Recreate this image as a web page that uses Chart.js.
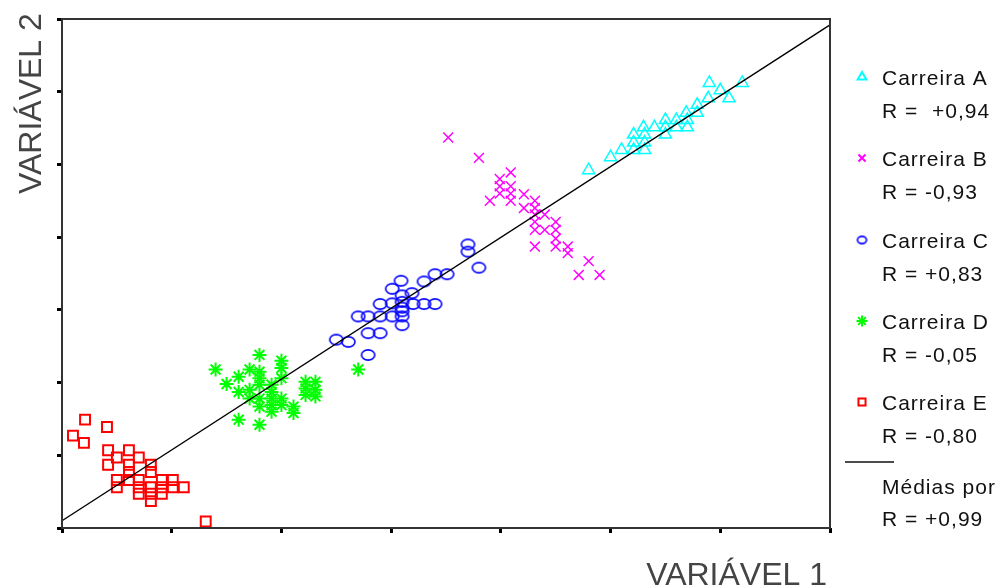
<!DOCTYPE html>
<html>
<head>
<meta charset="utf-8">
<script src="https://cdn.jsdelivr.net/npm/chart.js@4/dist/chart.umd.min.js"></script>
<style>
  html, body { margin: 0; padding: 0; background: #fff; }
  #wrap { width: 1004px; height: 588px; }
</style>
</head>
<body>
<div id="wrap"><canvas id="chart" width="1004" height="588"></canvas></div>
<script>
// values, both axes run 0..7 (one unit per tick)
const carreiraA = [
    [4.80, 4.92], [5.00, 5.10], [5.10, 5.20], [5.21, 5.20], [5.31, 5.20],
    [5.21, 5.30], [5.31, 5.30], [5.21, 5.41], [5.31, 5.41], [5.30, 5.51],
    [5.40, 5.51], [5.50, 5.41], [5.50, 5.51], [5.50, 5.61], [5.60, 5.61],
    [5.60, 5.51], [5.70, 5.51], [5.70, 5.61], [5.69, 5.71], [5.79, 5.71],
    [5.79, 5.82], [5.89, 5.91], [6.00, 6.02], [6.08, 5.91], [5.90, 6.12],
    [6.20, 6.12]
];
const carreiraB = [
    [3.52, 5.37], [3.80, 5.09], [4.09, 4.89], [3.99, 4.80], [4.09, 4.70],
    [3.99, 4.70], [4.09, 4.60], [3.99, 4.60], [3.90, 4.50], [4.09, 4.50],
    [4.21, 4.59], [4.21, 4.40], [4.31, 4.50], [4.31, 4.40], [4.31, 4.31],
    [4.31, 4.21], [4.40, 4.31], [4.31, 4.10], [4.40, 4.10], [4.50, 4.21],
    [4.50, 4.10], [4.50, 3.98], [4.50, 3.87], [4.31, 3.87], [4.61, 3.87],
    [4.61, 3.78], [4.80, 3.67], [4.71, 3.48], [4.90, 3.48]
];
const carreiraC = [
    [3.70, 3.90], [3.70, 3.80], [3.80, 3.58], [3.40, 3.49], [3.51, 3.49],
    [3.30, 3.39], [3.09, 3.40], [3.01, 3.29], [3.19, 3.23], [3.10, 3.20],
    [3.10, 3.11], [3.01, 3.09], [2.90, 3.08], [3.20, 3.08], [3.30, 3.08],
    [3.40, 3.08], [3.10, 3.03], [3.10, 2.98], [3.10, 2.91], [3.10, 2.79],
    [3.01, 2.91], [2.90, 2.91], [2.79, 2.91], [2.70, 2.91], [2.79, 2.68],
    [2.90, 2.68], [2.50, 2.59], [2.61, 2.56], [2.79, 2.38]
];
const carreiraD = [
    [1.40, 2.18], [1.80, 2.38], [2.00, 2.30], [2.00, 2.20], [1.61, 2.08],
    [1.71, 2.18], [1.80, 2.15], [1.80, 2.06], [1.50, 1.98], [1.61, 1.87],
    [1.71, 1.90], [1.80, 1.97], [1.91, 1.97], [1.91, 1.87], [2.00, 2.06],
    [2.22, 2.01], [2.31, 2.01], [2.22, 1.92], [2.31, 1.90], [2.22, 1.83],
    [2.31, 1.81], [1.71, 1.78], [1.80, 1.78], [1.91, 1.78], [1.80, 1.67],
    [1.91, 1.69], [2.00, 1.78], [2.00, 1.69], [2.11, 1.67], [2.11, 1.58],
    [1.91, 1.60], [1.61, 1.49], [1.80, 1.42], [2.70, 2.18]
];
const carreiraE = [
    [0.21, 1.49], [0.41, 1.39], [0.10, 1.27], [0.20, 1.17], [0.42, 1.07],
    [0.61, 1.07], [0.50, 0.97], [0.70, 0.97], [0.42, 0.87], [0.61, 0.87],
    [0.81, 0.87], [0.61, 0.77], [0.81, 0.77], [0.50, 0.66], [0.61, 0.66],
    [0.70, 0.66], [0.91, 0.66], [1.01, 0.66], [0.50, 0.56], [0.70, 0.56],
    [0.81, 0.56], [0.91, 0.56], [1.01, 0.56], [1.11, 0.56], [0.70, 0.47],
    [0.81, 0.47], [0.91, 0.47], [0.81, 0.37], [1.31, 0.09]
];
// line through the group means
const mediasLinha = [[0, 0.10], [7, 6.92]];

const legendLabels = ['Carreira A', 'Carreira B', 'Carreira C', 'Carreira D', 'Carreira E', 'Médias por'];
const legendR = ['R =  +0,94', 'R = -0,93', 'R = +0,83', 'R = -0,05', 'R = -0,80', 'R = +0,99'];

const toXY = arr => arr.map(p => ({ x: p[0], y: p[1] }));

// the circles in the original are a little wider than tall
function ellipseMarker(rx, ry, color, lw) {
    let c = document.createElement('canvas');
    c.width = Math.ceil(rx * 2 + lw * 2);
    c.height = Math.ceil(ry * 2 + lw * 2);
    let g = c.getContext('2d');
    g.strokeStyle = color;
    g.lineWidth = lw;
    g.beginPath();
    g.ellipse(c.width / 2, c.height / 2, rx, ry, 0, 0, Math.PI * 2);
    g.stroke();
    return c;
}

const series = [
    { data: carreiraA, color: '#00ffff', style: 'triangle', radius: 7, width: 1.5, legendRadius: 5 },
    { data: carreiraB, color: '#ff00ff', style: 'crossRot', radius: 7, width: 1.5, legendRadius: 5 },
    { data: carreiraC, color: '#0000ff', style: ellipseMarker(6.6, 5.1, '#0000ff', 1.6), radius: 6, width: 1.5,
      legendStyle: ellipseMarker(4.5, 3.6, '#0000ff', 1.6) },
    { data: carreiraD, color: '#00ff00', style: 'star', radius: 7, width: 2, legendRadius: 5.5 },
    { data: carreiraE, color: '#ff0000', style: 'rect', radius: 7, width: 2, legendRadius: 5 }
];

let datasets = [{
    data: toXY(mediasLinha),
    showLine: true,
    borderColor: '#000',
    borderWidth: 1.4,
    pointRadius: 0,
    fill: false
}];

series.forEach(s => {
    datasets.push({
        data: toXY(s.data),
        pointStyle: s.style,
        pointRadius: s.radius,
        pointBorderColor: s.color,
        pointBackgroundColor: 'rgba(0,0,0,0)',
        pointBorderWidth: s.width,
        showLine: false
    });
});

const decorations = {
    id: 'decorations',
    afterDraw(chart) {
        const ctx = chart.ctx;
        const a = chart.chartArea;
        ctx.save();

        // frame round the plot
        ctx.strokeStyle = '#333';
        ctx.lineWidth = 2;
        ctx.strokeRect(a.left, a.top, a.right - a.left, a.bottom - a.top);

        // axis titles
        ctx.fillStyle = '#444';
        ctx.font = '32px "Liberation Sans"';
        ctx.textBaseline = 'alphabetic';
        ctx.textAlign = 'right';
        ctx.fillText('VARIÁVEL 1', a.right - 3, 585);

        ctx.save();
        ctx.translate(41, 194);
        ctx.rotate(-Math.PI / 2);
        ctx.textAlign = 'left';
        ctx.fillText('VARIÁVEL 2', 0, 0);
        ctx.restore();

        // legend
        const labelY = [79, 160, 242, 323, 404];
        series.forEach((s, i) => {
            ctx.strokeStyle = s.color;
            ctx.fillStyle = 'rgba(0,0,0,0)';
            Chart.helpers.drawPoint(ctx, {
                pointStyle: s.legendStyle || s.style,
                radius: s.legendRadius || 4,
                borderWidth: 1.5
            }, 862, labelY[i] - 2);
        });

        ctx.font = '21px "Liberation Sans"';
        ctx.letterSpacing = '1px';
        ctx.fillStyle = '#111';
        ctx.textAlign = 'left';
        ctx.textBaseline = 'middle';
        series.forEach((s, i) => {
            ctx.fillText(legendLabels[i], 882, labelY[i]);
            ctx.fillText(legendR[i], 882, labelY[i] + 33);
        });

        ctx.strokeStyle = '#111';
        ctx.lineWidth = 1.5;
        ctx.beginPath();
        ctx.moveTo(845, 462);
        ctx.lineTo(894, 462);
        ctx.stroke();
        ctx.fillText(legendLabels[5], 882, 488);
        ctx.fillText(legendR[5], 882, 520);

        ctx.restore();
    }
};

const axisOpts = (fitSize, isX) => ({
    type: 'linear',
    min: 0,
    max: 7,
    ticks: { stepSize: 1, display: false },
    grid: {
        display: true,
        drawOnChartArea: false,
        drawTicks: true,
        tickLength: 5,
        tickWidth: 3,
        tickColor: '#000'
    },
    border: { display: false },
    afterFit(scale) {
        if (isX) {
            scale.height = fitSize;
        } else {
            scale.width = fitSize;
        }
    }
});

new Chart(document.getElementById('chart'), {
    type: 'scatter',
    data: { datasets },
    options: {
        responsive: false,
        animation: false,
        devicePixelRatio: 1,
        layout: { padding: { left: 0, right: 174, top: 19, bottom: 0 } },
        plugins: {
            legend: { display: false },
            tooltip: { enabled: false }
        },
        scales: {
            x: axisOpts(60, true),
            y: axisOpts(62, false)
        }
    },
    plugins: [decorations]
});
</script>
</body>
</html>
